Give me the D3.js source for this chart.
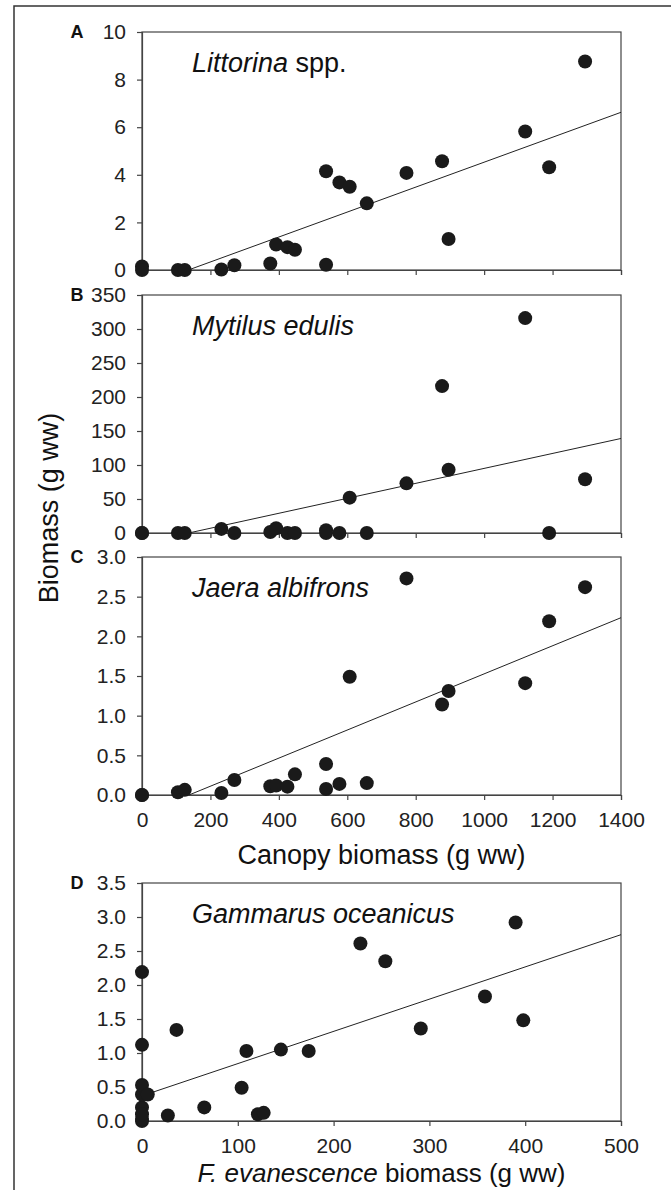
<!DOCTYPE html>
<html>
<head>
<meta charset="utf-8">
<script src="https://cdn.jsdelivr.net/npm/d3@7"></script>
<style>
  body { margin: 0; background: #fff; }
  svg { display: block; font-family: "Liberation Sans", Arial, sans-serif; }
  .axis path, .axis line { stroke: #444; stroke-width: 1.2px; }
  .axis text { font-size: 21px; fill: #222; }
</style>
</head>
<body>
<svg width="671" height="1190"></svg>
<script>
// canopy biomass (x) shared by panels A-C
var canopy = [0, 0, 105, 125, 232, 270, 375, 392, 425, 447, 538, 538, 577, 607, 657, 773, 877, 896, 1120, 1190, 1295];
var littorina = [0.15, 0.0, 0.0, 0.0, 0.02, 0.2, 0.27, 1.07, 0.96, 0.85, 4.15, 0.22, 3.68, 3.5, 2.8, 4.08, 4.57, 1.3, 5.82, 4.32, 8.76];
var mytilus = [0, 0, 0, 0, 6, 0, 1.5, 7, 0, 0, 4, 0, 0, 52, 0, 73, 216, 93, 316, 0, 79];
var jaera = [0, 0, 0.035, 0.065, 0.025, 0.19, 0.11, 0.12, 0.105, 0.26, 0.39, 0.075, 0.14, 1.49, 0.15, 2.73, 1.14, 1.31, 1.41, 2.19, 2.62];

// F. evanescence biomass (x) for panel D
var fucus = [0, 0, 0, 0, 0, 0, 0, 0, 6, 27, 36, 65, 104, 109, 121, 127, 145, 174, 228, 254, 291, 358, 390, 398];
var gammarus = [0, 0.03, 0.2, 0.39, 0.53, 1.12, 2.19, 0.1, 0.39, 0.08, 1.34, 0.2, 0.49, 1.03, 0.1, 0.12, 1.05, 1.03, 2.61, 2.35, 1.36, 1.83, 2.92, 1.48];

// regression lines [slope, intercept]
var fitA = [0.00524, -0.71],
    fitB = [0.110, -15.0],
    fitC = [0.00177, -0.243],
    fitD = [0.00474, 0.37];

var svg = d3.select("svg"),
    left = 142, right = 621, h = 238;

/* outer frame of the figure */
svg.append("path")
    .attr("d", "M14,1190V6H671")
    .attr("fill", "none")
    .attr("stroke", "#333")
    .attr("stroke-width", 1.5);

var panels = [
    {letter: "A", top: 32, xs: canopy, ys: littorina, fit: fitA, xmax: 1400, xstep: 200,
        ymax: 10, ystep: 2, fmt: d3.format("d"), xlabels: false,
        name: [["Littorina", true], [" spp.", false]]},
    {letter: "B", top: 295, xs: canopy, ys: mytilus, fit: fitB, xmax: 1400, xstep: 200,
        ymax: 350, ystep: 50, fmt: d3.format("d"), xlabels: false,
        name: [["Mytilus edulis", true]]},
    {letter: "C", top: 557, xs: canopy, ys: jaera, fit: fitC, xmax: 1400, xstep: 200,
        ymax: 3, ystep: 0.5, fmt: d3.format(".1f"), xlabels: true,
        name: [["Jaera albifrons", true]]},
    {letter: "D", top: 883, xs: fucus, ys: gammarus, fit: fitD, xmax: 500, xstep: 100,
        ymax: 3.5, ystep: 0.5, fmt: d3.format(".1f"), xlabels: true,
        name: [["Gammarus oceanicus", true]]}
];

panels.forEach(function (p) {
    var x = d3.scaleLinear().domain([0, p.xmax]).range([left, right]),
        y = d3.scaleLinear().domain([0, p.ymax]).range([p.top + h, p.top]);

    var g = svg.append("g");

    // plot box
    g.append("rect")
        .attr("x", left).attr("y", p.top)
        .attr("width", right - left).attr("height", h)
        .attr("fill", "none")
        .attr("stroke", "#444")
        .attr("stroke-width", 1.2);

    // axes
    g.append("g")
        .attr("class", "axis")
        .attr("transform", "translate(0," + (p.top + h) + ")")
        .call(d3.axisBottom(x)
            .tickValues(d3.range(0, p.xmax + 1, p.xstep))
            .tickSize(5).tickPadding(12)
            .tickFormat(p.xlabels ? d3.format("d") : ""));

    g.append("g")
        .attr("class", "axis")
        .attr("transform", "translate(" + left + ",0)")
        .call(d3.axisLeft(y)
            .tickValues(d3.range(0, p.ymax + p.ystep / 2, p.ystep))
            .tickSize(5).tickPadding(11)
            .tickFormat(p.fmt));

    // regression line, starting where the fit crosses zero
    var x0 = Math.max(0, -p.fit[1] / p.fit[0]);
    g.append("line")
        .attr("x1", x(x0)).attr("y1", y(p.fit[0] * x0 + p.fit[1]))
        .attr("x2", x(p.xmax)).attr("y2", y(p.fit[0] * p.xmax + p.fit[1]))
        .attr("stroke", "#222")
        .attr("stroke-width", 1);

    // points
    g.selectAll(".dot")
        .data(p.xs.map(function (d, i) { return [d, p.ys[i]]; }))
        .enter().append("circle")
        .attr("class", "dot")
        .attr("cx", function (d) { return x(d[0]); })
        .attr("cy", function (d) { return y(d[1]); })
        .attr("r", 7)
        .attr("fill", "#1a1a1a");

    // panel letter
    g.append("text")
        .attr("x", 77).attr("y", p.top)
        .attr("dy", "0.36em")
        .attr("text-anchor", "middle")
        .style("font-size", "18px")
        .style("font-weight", "bold")
        .attr("fill", "#111")
        .text(p.letter);

    // species name
    var t = g.append("text")
        .attr("x", 192).attr("y", p.top + 40)
        .style("font-size", "27px")
        .attr("fill", "#111");
    p.name.forEach(function (s) {
        t.append("tspan")
            .style("font-style", s[1] ? "italic" : "normal")
            .text(s[0]);
    });
});

/* axis titles */
svg.append("text")
    .attr("transform", "translate(58,508) rotate(-90)")
    .attr("text-anchor", "middle")
    .style("font-size", "27px")
    .attr("fill", "#111")
    .text("Biomass (g ww)");

svg.append("text")
    .attr("x", (left + right) / 2).attr("y", 864)
    .attr("text-anchor", "middle")
    .style("font-size", "27px")
    .attr("fill", "#111")
    .text("Canopy biomass (g ww)");

var xt = svg.append("text")
    .attr("x", (left + right) / 2).attr("y", 1182)
    .attr("text-anchor", "middle")
    .style("font-size", "26px")
    .attr("fill", "#111");
xt.append("tspan").style("font-style", "italic").text("F. evanescence");
xt.append("tspan").text(" biomass (g ww)");
</script>
</body>
</html>
